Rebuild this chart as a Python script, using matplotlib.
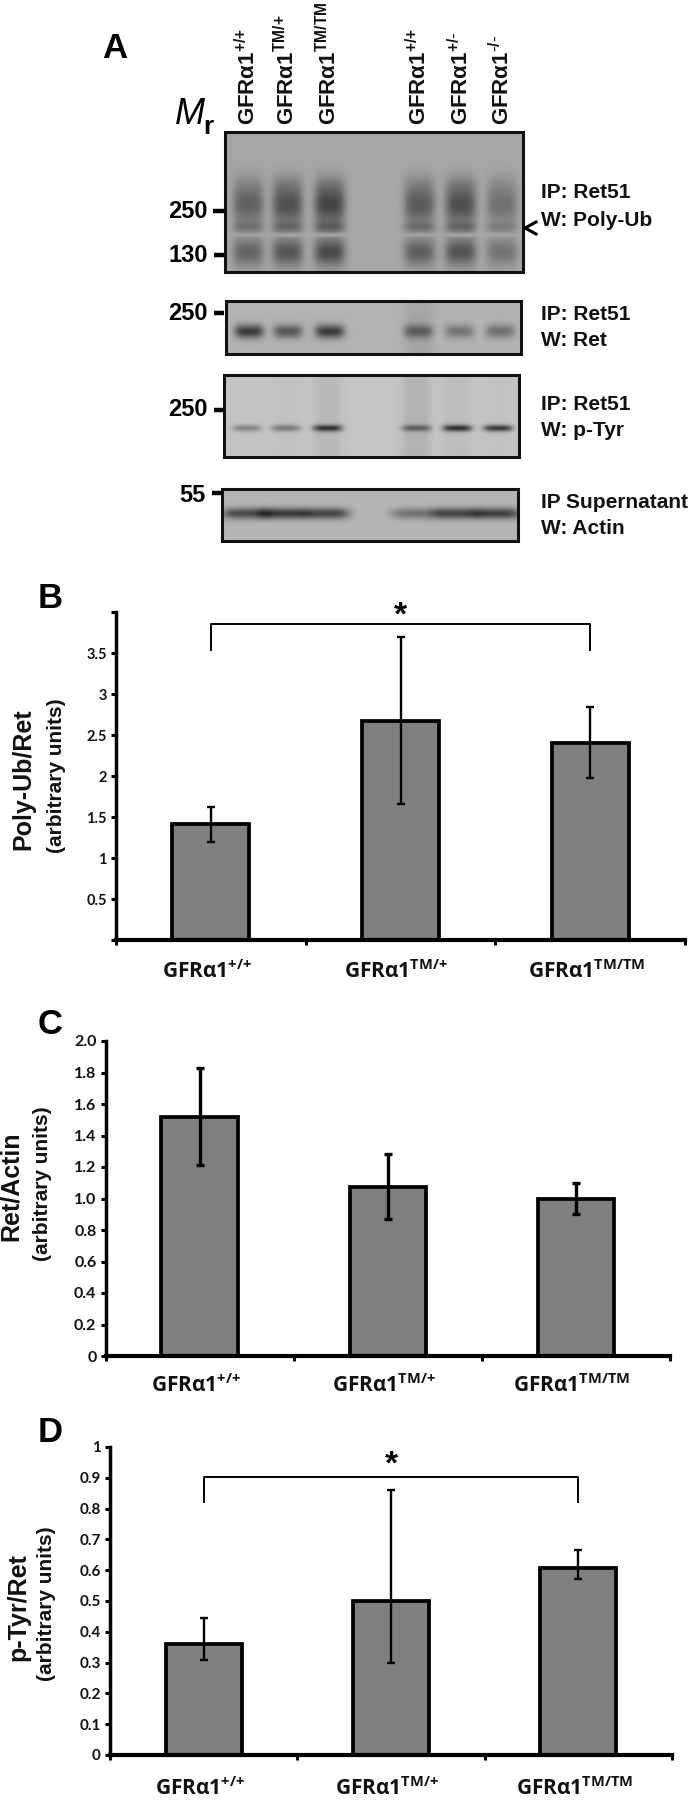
import numpy as np
import matplotlib
matplotlib.use("Agg")
import matplotlib.pyplot as plt
from matplotlib.patches import Rectangle

W = 697
H = 1800
plt.rcParams['mathtext.default'] = 'regular'

# -------------------------------- DATA ------------------------------------
genotypes = ["+/+", "TM/+", "TM/TM"]
lanes_top = ["+/+", "TM/+", "TM/TM", "+/+", "+/-", "-/-"]

polyub_vals = [1.42, 2.67, 2.40]
polyub_low = [1.20, 1.66, 1.98]
polyub_high = [1.62, 3.70, 2.84]
polyub_ticks = ["", "0.5", "1", "1.5", "2", "2.5", "3", "3.5", ""]

ret_vals = [1.52, 1.07, 1.00]
ret_low = [1.21, 0.87, 0.90]
ret_high = [1.83, 1.28, 1.10]
ret_ticks = ["0", "0.2", "0.4", "0.6", "0.8", "1.0", "1.2", "1.4", "1.6", "1.8", "2.0"]

ptyr_vals = [0.36, 0.50, 0.607]
ptyr_low = [0.31, 0.30, 0.57]
ptyr_high = [0.445, 0.86, 0.665]
ptyr_ticks = ["0", "0.1", "0.2", "0.3", "0.4", "0.5", "0.6", "0.7", "0.8", "0.9", "1"]

# band strength per lane, read by eye from the blots
lane_x = [0.077, 0.209, 0.351, 0.653, 0.792, 0.931]
polyub_strength = [0.72, 0.88, 1.0, 0.78, 0.90, 0.55]
ret_strength = [0.95, 0.72, 0.95, 0.60, 0.48, 0.52]
ret_smear = [0.0, 0.0, 0.0, 0.22, 0.02, 0.02]
ptyr_strength = [0.45, 0.50, 0.95, 0.62, 1.0, 0.95]
ptyr_smear = [0.02, 0.06, 0.18, 0.28, 0.12, 0.05]
actin_strength = [0.80, 0.92, 0.85, 0.50, 0.85, 0.88]


def label(g):
    # braces and \text keep mathtext from spacing + and - as operators
    s = g.replace("+", "{+}").replace("-", r"\text{-}")
    return "GFRα1$^{\\mathregular{" + s + "}}$"


def blot_polyub(w, h):
    x = np.linspace(0, 1, w)[None, :]
    y = np.linspace(0, 1, h)[:, None]
    img = np.full((h, w), 0.65)
    prof = (0.38 * np.exp(-((y - 0.52) / 0.14) ** 2)
            + 0.18 * np.exp(-((y - 0.68) / 0.04) ** 2)
            + 0.36 * np.exp(-((y - 0.86) / 0.10) ** 2)
            + 0.08 * np.exp(-((y - 0.37) / 0.08) ** 2))
    gap = 0.13 * np.exp(-((y - 0.737) / 0.016) ** 2)
    for cx, s in zip(lane_x, polyub_strength):
        mask = np.exp(-((x - cx) / 0.052) ** 4)
        img -= s * mask * prof
        img += s * mask * gap
    return np.clip(img, 0, 1)


def blot_bands(w, h, bg, strength, smear, yc, sy, hw, dark):
    x = np.linspace(0, 1, w)[None, :]
    y = np.linspace(0, 1, h)[:, None]
    img = np.full((h, w), bg)
    for cx, s, m in zip(lane_x, strength, smear):
        mask = np.exp(-((x - cx) / hw) ** 4)
        img -= dark * s * mask * np.exp(-((y - yc) / sy) ** 2)
        img -= 0.25 * m * mask
    return np.clip(img, 0.12, 1)


fig = plt.figure(figsize=(W / 100, H / 100), dpi=100)
bg = fig.add_axes([0, 0, 1, 1])
bg.set_xlim(0, W)
bg.set_ylim(H, 0)
bg.axis("off")
SANS = "Liberation Sans"


def gel(img, x0, x1, y0, y1):
    bg.imshow(img, cmap="gray", vmin=0, vmax=1, extent=(x0, x1, y1, y0), aspect="auto",
              interpolation="bilinear", zorder=1)
    bg.add_patch(Rectangle((x0, y0), x1 - x0, y1 - y0, fill=False, ec="#111111", lw=2.2, zorder=2))


def mw(txt, y, xr, tick_y, tick0, tick1=224):
    bg.text(xr, y, txt, family=SANS, weight="bold", fontsize=17, ha="right", va="center")
    bg.plot([tick0, tick1], [tick_y, tick_y], color="k", lw=3.2, solid_capstyle="butt", zorder=3)


def side(a, b, ya, yb):
    bg.text(541, ya, a, family=SANS, weight="bold", fontsize=15, ha="left", va="center", color="#111111")
    bg.text(541, yb, b, family=SANS, weight="bold", fontsize=15, ha="left", va="center", color="#111111")


# -------------------------------- PANEL A ------------------------------------
gel(blot_polyub(298, 140), 225, 523, 132, 272)
gel(blot_bands(295, 53, 0.70, ret_strength, ret_smear, 0.575, 0.13, 0.05, 0.50), 225.5, 520.5, 301, 354)
gel(blot_bands(295, 82, 0.77, ptyr_strength, ptyr_smear, 0.65, 0.042, 0.05, 0.55), 224, 519, 375, 457)
gel(blot_bands(296, 52, 0.71, actin_strength, [0] * 6, 0.47, 0.11, 0.08, 0.52), 222, 518, 489, 541)

lane_px = [248, 287, 329, 419, 461, 502]
for xp, g in zip(lane_px, lanes_top):
    bg.text(xp, 125, label(g), family=SANS, weight="bold", fontsize=16, rotation=90,
            ha="center", va="bottom", color="#111111")

bg.text(115, 48, "A", family=SANS, weight="bold", fontsize=25, ha="center", va="center")
bg.text(175, 115, "M", family=SANS, style="italic", fontsize=26, ha="left", va="center")
bg.text(203, 127, "r", family=SANS, weight="bold", fontsize=19, ha="left", va="center")

mw("250", 211, 208, 211, 213)
mw("130", 255, 208, 255, 214)
mw("250", 313, 208, 313, 214)
mw("250", 410, 208, 410, 214)
mw("55", 495, 206, 493, 212, 222)

bg.plot([536, 525, 536], [222, 228, 234], color="k", lw=2.2, zorder=3)
side("IP: Ret51", "W: Poly-Ub", 193, 220)
side("IP: Ret51", "W: Ret", 314, 341)
side("IP: Ret51", "W: p-Tyr", 404, 431)
side("IP Supernatant", "W: Actin", 502, 528)


# -------------------------------- BAR PANELS ------------------------------------
def panel(x0, x1, ytop, ybase, vals, low, high, ticks, ymax, lw_err, lab_y, fs_tick):
    ax = fig.add_axes([x0 / W, 1 - ybase / H, (x1 - x0) / W, (ybase - ytop) / H])
    ax.patch.set_alpha(0)
    pos = np.array([0.5, 1.5, 2.5])
    vals = np.array(vals)
    ax.bar(pos, vals, width=0.405, color="#7f7f7f", edgecolor="k", linewidth=2.7, zorder=2)
    ax.errorbar(pos, vals, yerr=[vals - np.array(low), np.array(high) - vals], fmt="none",
                ecolor="k", elinewidth=lw_err, capsize=3.2, capthick=lw_err, zorder=3)
    ax.set_xlim(0, 3)
    ax.set_ylim(0, ymax)
    ax.set_xticks([0, 1, 2, 3])
    ax.set_xticklabels([])
    ax.set_yticks(np.linspace(0, ymax, len(ticks)))
    ax.set_yticklabels(ticks, family="Lato", weight="bold", fontsize=fs_tick, color="#111111")
    ax.tick_params(axis="both", length=3.5, width=2.2, pad=3)
    ax.spines["top"].set_visible(False)
    ax.spines["right"].set_visible(False)
    ax.spines["left"].set_linewidth(2.5)
    ax.spines["bottom"].set_linewidth(3)
    for p, g in zip(pos, genotypes):
        xp = x0 + (x1 - x0) * p / 3 - 4
        bg.text(xp, lab_y, label(g), family="Open Sans", weight="bold", fontsize=15,
                ha="center", va="center", color="#111111")
    return ax


def bracket(ax, y_top, y_drop, star_y):
    ax.plot([0.5, 0.5, 2.5, 2.5], [y_drop, y_top, y_top, y_drop], color="k", lw=1.4, zorder=4, clip_on=False)
    ax.text(1.5, star_y, "*", family=SANS, weight="bold", fontsize=24, ha="center", va="center", clip_on=False)


def ylabels(a, fs, xa, ya, xb, yb):
    bg.text(xa, ya, a, family=SANS, weight="bold", fontsize=fs, rotation=90, ha="center", va="center", color="#111111")
    bg.text(xb, yb, "(arbitrary units)", family=SANS, weight="bold", fontsize=15, rotation=90,
            ha="center", va="center", color="#111111")


ax_b = panel(116, 685, 612, 940, polyub_vals, polyub_low, polyub_high, polyub_ticks, 4.0, 1.7, 972, 10.5)
bracket(ax_b, 3.85, 3.54, 3.95)
ylabels("Poly-Ub/Ret", 18, 23, 779, 56, 776)
bg.text(50, 598, "B", family=SANS, weight="bold", fontsize=25, ha="center", va="center")

ax_c = panel(105.5, 670, 1041, 1356, ret_vals, ret_low, ret_high, ret_ticks, 2.0, 2.4, 1386, 11.5)
ylabels("Ret/Actin", 18, 11, 1186, 43, 1184)
bg.text(50, 1025, "C", family=SANS, weight="bold", fontsize=25, ha="center", va="center")

ax_d = panel(110, 672, 1447, 1755, ptyr_vals, ptyr_low, ptyr_high, ptyr_ticks, 1.0, 1.7, 1789, 11)
bracket(ax_d, 0.903, 0.82, 0.94)
ylabels("p-Tyr/Ret", 18, 18, 1607, 47, 1604)
bg.text(50, 1432, "D", family=SANS, weight="bold", fontsize=25, ha="center", va="center")

fig.savefig("out.png", dpi=100)
